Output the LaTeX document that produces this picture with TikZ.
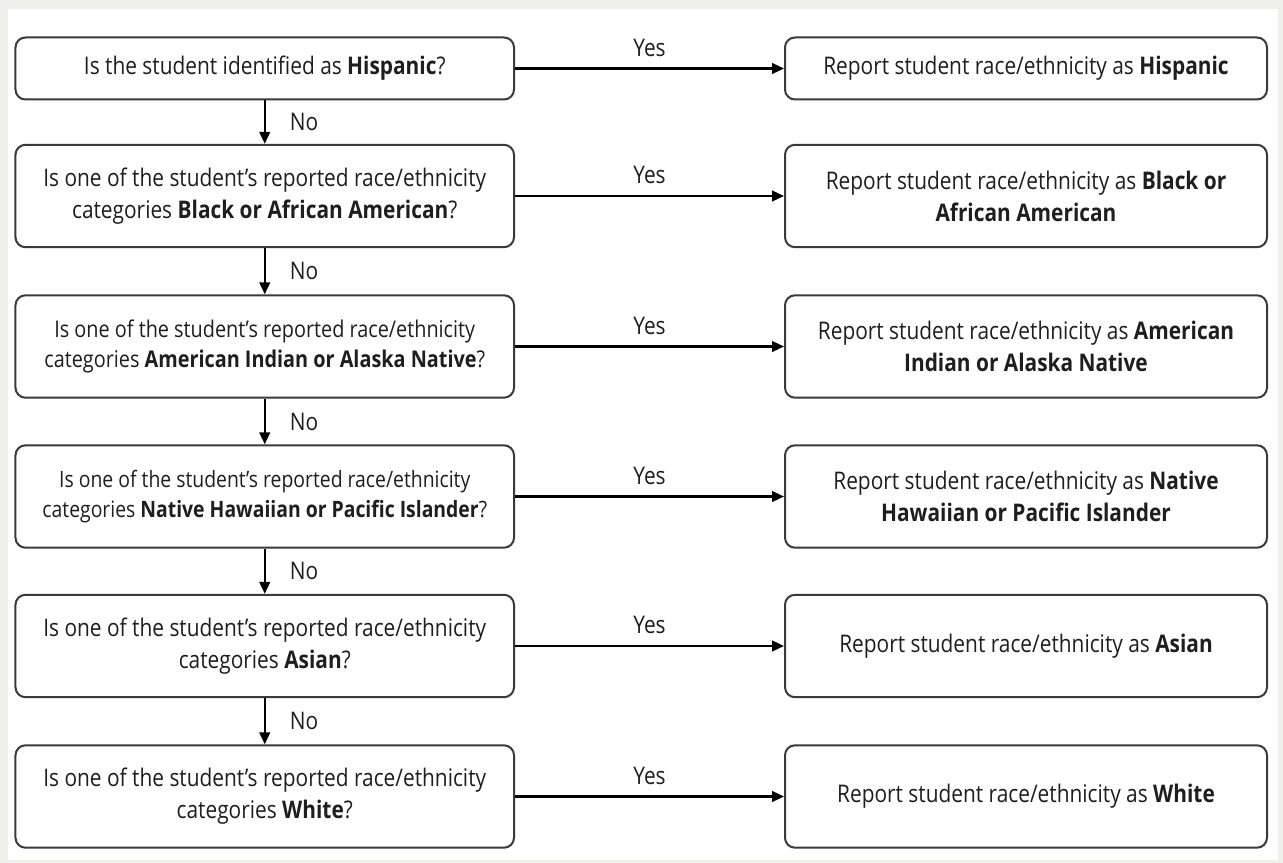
\documentclass[tikz,border=0pt]{standalone}
\usepackage{fontspec}
\setmainfont{Open Sans}[FakeStretch=0.86]
\usetikzlibrary{arrows.meta}
\definecolor{bgrey}{HTML}{EFEFEC}
\definecolor{edgec}{HTML}{3A3A3A}
\definecolor{txtc}{HTML}{1E1E1E}
\tikzset{
  basebox/.style={draw=edgec, line width=1.5pt, rounded corners=7.5pt, fill=white,
    align=center, text=txtc, inner sep=0pt, font=\fontsize{18.2}{24}\selectfont},
  qbox/.style={basebox, minimum width=373.9pt},
  qsmall/.style={qbox, font=\fontsize{17.3}{23}\selectfont},
  qsmaller/.style={qbox, font=\fontsize{16.9}{23}\selectfont},
  rbox/.style={basebox, minimum width=361.5pt},
  shortbox/.style={minimum height=46.5pt},
  tallbox/.style={minimum height=76.8pt},
  flow/.style={draw=black, line width=1.7pt, -{Triangle[length=9pt,width=8pt]}},
  lbl/.style={font=\fontsize{18.2}{20}\selectfont, text=txtc, inner sep=0pt}
}
\begin{document}
\begin{tikzpicture}[x=0.75pt,y=-0.75pt]
\useasboundingbox (0,0) rectangle (1283,863);
\fill[bgrey] (0,0) rectangle (1283,863);
\fill[white] (8,9) rectangle (1278,860);

% left question boxes
\node[qbox, shortbox] (q1) at (264.75,68.5) {Is the student identified as \textbf{Hispanic}?};
\node[qbox, tallbox] (q2) at (264.75,196) {Is one of the student’s reported race/ethnicity\\categories \textbf{Black or African American}?};
\node[qsmall, tallbox] (q3) at (264.75,346.5) {Is one of the student’s reported race/ethnicity\\categories \textbf{American Indian or Alaska Native}?};
\node[qsmaller, tallbox] (q4) at (264.75,496.5) {Is one of the student’s reported race/ethnicity\\categories \textbf{Native Hawaiian or Pacific Islander}?};
\node[qbox, tallbox] (q5) at (264.75,646) {Is one of the student’s reported race/ethnicity\\categories \textbf{Asian}?};
\node[qbox, tallbox] (q6) at (264.75,796.5) {Is one of the student’s reported race/ethnicity\\categories \textbf{White}?};

% right report boxes
\node[rbox, shortbox] (r1) at (1026,68.5) {Report student race/ethnicity as \textbf{Hispanic}};
\node[rbox, tallbox] (r2) at (1026,196) {Report student race/ethnicity as \textbf{Black or}\\\textbf{African American}};
\node[rbox, tallbox] (r3) at (1026,346.5) {Report student race/ethnicity as \textbf{American}\\\textbf{Indian or Alaska Native}};
\node[rbox, tallbox] (r4) at (1026,496.5) {Report student race/ethnicity as \textbf{Native}\\\textbf{Hawaiian or Pacific Islander}};
\node[rbox, tallbox] (r5) at (1026,646) {Report student race/ethnicity as \textbf{Asian}};
\node[rbox, tallbox] (r6) at (1026,796.5) {Report student race/ethnicity as \textbf{White}};

% Yes connectors
\foreach \i in {1,...,6}{
  \draw[flow] (q\i.east) -- node[lbl, above=8pt] (yes\i) {Yes} (r\i.west);
}
% No connectors
\foreach \i/\j in {1/2,2/3,3/4,4/5,5/6}{
  \draw[flow] (q\i.south) -- node[lbl, right=18pt] (no\i) {No} (q\j.north);
}
\end{tikzpicture}
\end{document}
